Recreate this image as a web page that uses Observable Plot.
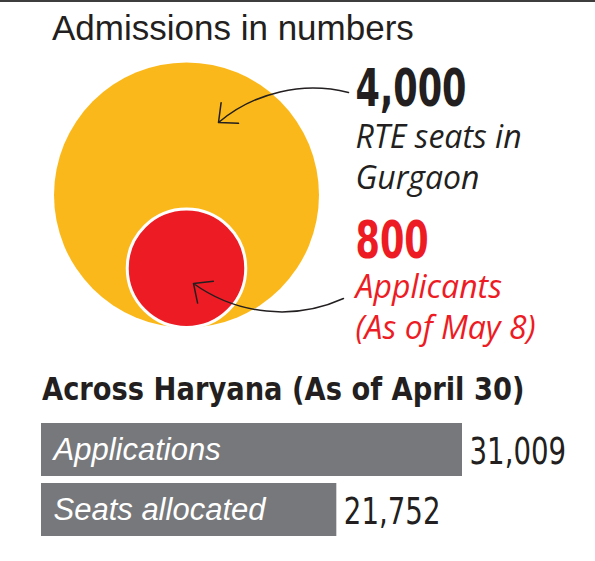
<!DOCTYPE html>
<html>
<head>
<meta charset="utf-8">
<script src="https://cdn.jsdelivr.net/npm/d3@7"></script>
<script src="https://cdn.jsdelivr.net/npm/@observablehq/plot@0.6"></script>
<style>
  html, body { margin: 0; padding: 0; background: #fff; }
  #wrap { width: 595px; height: 561px; border-top: 2px solid #3d3d3d; box-sizing: border-box; overflow: hidden;
          font-family: "Liberation Sans", Arial, sans-serif; color: #231f20; }
  #title { height: 48px; line-height: 52px; padding-left: 52px; font-size: 35px; font-weight: normal; white-space: nowrap; }
  #subtitle { padding-top: 23px; line-height: 32px; height: 32px; padding-left: 42px; white-space: nowrap; }
  #subtitle span { display: inline-block; font-family: "DejaVu Sans Condensed", "DejaVu Sans", sans-serif; font-weight: bold;
          font-size: 31.5px; transform: scaleX(0.964); transform-origin: 0 0; }
  svg { display: block; }
</style>
</head>
<body>
<div id="wrap">
  <div id="title"></div>
  <div id="circles"></div>
  <div id="subtitle"><span></span></div>
  <div id="bars"></div>
</div>
<script>
// ---- data ----
const titleText = "Admissions in numbers";
const circleKeys = ["RTE seats", "Applicants"];
const circleValues = [4000, 800];
const circleLabels = ["RTE seats in\nGurgaon", "Applicants\n(As of May 8)"];
const circleColors = ["#fbb81a", "#ed1c24"];

const barTitle = "Across Haryana (As of April 30)";
const barCategories = ["Applications", "Seats allocated"];
const barValues = [31009, 21752];

// ---- layout / style ----
const INK = "#231f20";
const FONT = '"Liberation Sans", Arial, sans-serif';
const LABEL_FONT = '"Open Sans", "Liberation Sans", sans-serif';
const NARROW = '"DejaVu Sans Condensed", "DejaVu Sans", sans-serif';
const fmt = d3.format(",");

const layout = {
  width: 595, height: 300,       // circle panel
  baseline: 277,                 // pixel row where circles touch
  cx: 186, rMax: 132.5,
  textX: 355,
  numberY: [222, 70],            // baseline height of the big numbers above the circle baseline
  labelY: [139, -11],            // baseline height of the last label line
  arrows: [
    {x1: 348, y1: 235, x2: 218, y2: 205, bend: -27},
    {x1: 343, y1: 29, x2: 193, y2: 44, bend: 30}
  ]
};

// horizontally condense the glyphs of one text mark (nth text group of an svg)
function condense(svg, groupIndex, factor) {
  const g = svg.querySelectorAll('g[aria-label="text"]')[groupIndex];
  if (!g) return;
  g.querySelectorAll("text").forEach(t => {
    const spans = t.querySelectorAll("tspan");
    (spans.length ? [...spans] : [t]).forEach(el => {
      const w = el.getComputedTextLength();
      el.setAttribute("textLength", (w * factor).toFixed(1));
      el.setAttribute("lengthAdjust", "spacingAndGlyphs");
    });
  });
}

document.getElementById("title").textContent = titleText;
document.querySelector("#subtitle span").textContent = barTitle;

const circles = circleValues.map((v, i) => ({key: circleKeys[i], value: v, label: circleLabels[i], color: circleColors[i], i}));
const rScale = d3.scaleSqrt().domain([0, d3.max(circleValues)]).range([0, layout.rMax]);

const circlePlot = Plot.plot({
  width: layout.width, height: layout.height,
  margin: 0,
  x: {domain: [0, layout.width], axis: null},
  y: {domain: [layout.baseline - layout.height, layout.baseline], range: [layout.height, 0], axis: null},
  r: {type: "sqrt", domain: [0, d3.max(circleValues)], range: [0, layout.rMax]},
  color: {type: "identity"},
  marks: [
    Plot.dot(circles.filter(d => d.i === 0), {x: () => layout.cx, y: d => rScale(d.value), r: "value", fill: "color", stroke: null}),
    Plot.dot(circles.filter(d => d.i > 0), {x: () => layout.cx, y: d => rScale(d.value), r: "value", fill: "color", stroke: "white", strokeWidth: 3}),
    ...layout.arrows.map(a => Plot.arrow([a], {x1: "x1", y1: "y1", x2: "x2", y2: "y2", bend: a.bend, stroke: INK, strokeWidth: 1.5, headLength: 20, headAngle: 85})),
    Plot.text(circles, {x: () => layout.textX, y: d => layout.numberY[d.i], text: d => fmt(d.value), fill: d => d.i === 0 ? INK : d.color,
      textAnchor: "start", lineAnchor: "bottom", fontSize: 52, fontWeight: "bold", fontFamily: NARROW}),
    Plot.text(circles, {x: () => layout.textX, y: d => layout.labelY[d.i], text: "label", fill: d => d.i === 0 ? INK : d.color,
      textAnchor: "start", lineAnchor: "bottom", lineHeight: 1.28, fontSize: 32, fontStyle: "italic", fontFamily: LABEL_FONT})
  ]
});
document.getElementById("circles").appendChild(circlePlot);
condense(circlePlot, 0, 0.75);

const bars = barCategories.map((c, i) => ({category: c, value: barValues[i]}));
const barPlot = Plot.plot({
  width: 595, height: 154,
  marginTop: 18, marginBottom: 23, marginLeft: 41, marginRight: 133,
  x: {domain: [0, d3.max(barValues)], axis: null},
  y: {domain: barCategories, axis: null, paddingInner: 7 / 60, paddingOuter: 0, round: false},
  marks: [
    Plot.barX(bars, {x: "value", y: "category", fill: "#77787b"}),
    Plot.text(bars, {x: 0, y: "category", text: "category", textAnchor: "start", dx: 12, fill: "white",
      fontStyle: "italic", fontSize: 31, fontFamily: FONT}),
    Plot.text(bars, {x: "value", y: "category", text: d => fmt(d.value), textAnchor: "start", dx: 7, dy: 2, fill: INK,
      fontSize: 37, fontFamily: NARROW})
  ]
});
document.getElementById("bars").appendChild(barPlot);
condense(barPlot, 1, 0.83);
</script>
</body>
</html>
